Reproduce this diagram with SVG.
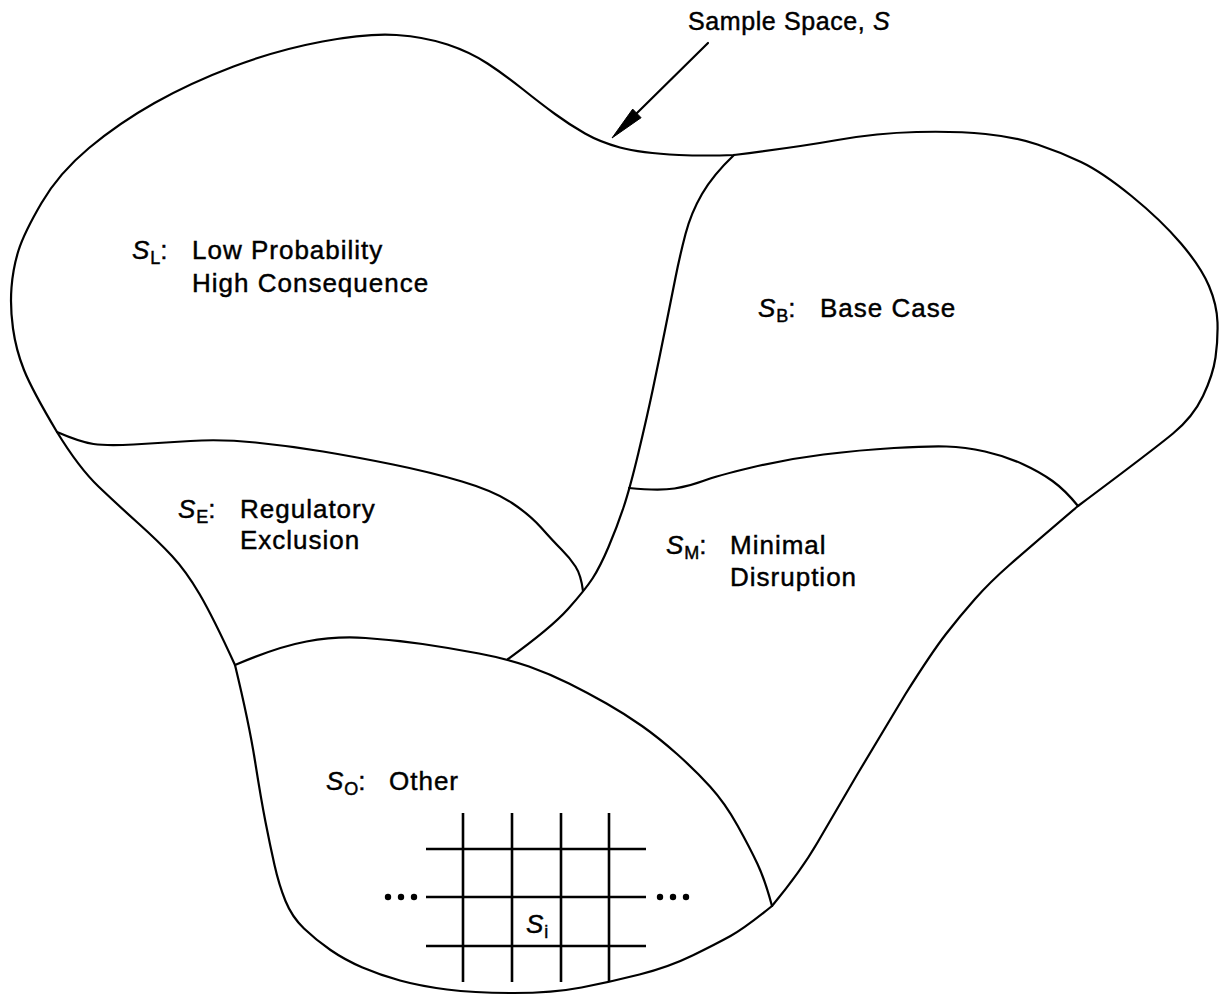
<svg xmlns="http://www.w3.org/2000/svg" width="1220" height="996" viewBox="0 0 1220 996">
<style>
.ln{fill:none;stroke:#000;stroke-width:2.2;stroke-linejoin:round;stroke-linecap:round}
.gr{fill:none;stroke:#000;stroke-width:2.6}
.t{font-family:"Liberation Sans",Arial,Helvetica,sans-serif;font-size:26px;letter-spacing:1px;fill:#000;stroke:#000;stroke-width:0.45px}
.it{font-style:italic}
.sub{font-size:18px;letter-spacing:0}
</style>
<rect width="1220" height="996" fill="#fff"/>
<g id="boundaries">
<path id="outline" class="ln" d="M 57,432 Q 32,390 24,370 Q 16,350 13,328.5 Q 10,307 11.5,287.5 Q 13,268 18.5,250.5 Q 24,233 41.5,203 Q 59,173 89,148 Q 119,123 154.5,103 Q 190,83 233.5,66.5 Q 277,50 322.5,41.5 Q 368,33 396.5,35 Q 425,37 447.5,44.5 Q 470,52 487.5,63.5 Q 505,75 522.5,89 Q 540,103 555,114 Q 570,125 585,133.5 Q 600,142 620,147.5 Q 640,153 679,155 Q 705,156 734,155 Q 798,147 837.5,140 Q 877,133 916.5,132 Q 956,131 985.5,134 Q 1015,137 1037.5,144.5 Q 1060,152 1081,162 Q 1102,172 1131.5,196 Q 1161,220 1181,243.5 Q 1201,267 1209,286 Q 1217,305 1217.5,322.5 Q 1218,340 1215.5,357.5 Q 1213,375 1203,396 Q 1193,417 1173,433.5 Q 1153,450 1078,506 Q 1030,547 1010,564.5 Q 990,582 975,599 Q 960,616 946,634 Q 932,652 905.5,694 Q 881,735 857.5,774 Q 834,814 817.5,842.5 Q 801,871 772,906 Q 745,928 730.5,936 Q 716,944 692.5,955.5 Q 669,967 639.5,974.5 Q 610,982 581.5,987.5 Q 553,993 513.5,993 Q 474,993 447,989.5 Q 420,986 400,980.5 Q 380,975 362.5,967.5 Q 345,960 330.5,950 Q 316,940 304,928.5 Q 292,917 285.5,901 Q 279,885 274.5,865 Q 270,845 265.5,822 Q 261,799 255,761 Q 249,723 235,665 Q 213,617 199.5,594 Q 186,571 172,556 Q 158,541 138.5,523.5 Q 119,506 99,487 Q 79,468 57,432 Z"/>
<path id="div-L-E" class="ln" d="M 57,432 Q 80,442 93.5,444 Q 107,446 133.5,444.5 Q 160,443 190.5,441 Q 221,439 255.5,442.5 Q 290,446 323,451.5 Q 356,457 393,464.5 Q 430,472 462,481.5 Q 494,491 512,503 Q 530,515 541.5,528 Q 553,541 561.5,549.5 Q 570,558 575.5,566.5 Q 581,575 583,591"/>
<path id="div-B-left" class="ln" d="M 734,155 Q 713,175 702,194 Q 691,213 685.5,234 Q 680,255 675.5,277.5 Q 671,300 665,330 Q 659,360 653,388.5 Q 647,417 638.5,452.5 Q 630,488 623.5,507.5 Q 617,527 608.5,547 Q 600,567 592.5,578.5 Q 585,590 568,609 Q 551,628 508,659"/>
<path id="div-M-top" class="ln" d="M 629,488 Q 659,491 674.5,488.5 Q 690,486 703,481 Q 716,476 751.5,467.5 Q 787,459 823.5,454.5 Q 860,450 894,448 Q 928,446 946.5,446.5 Q 965,447 985,451.5 Q 1005,456 1022.5,464 Q 1040,472 1052.5,481 Q 1065,490 1078,506"/>
<path id="div-O" class="ln" d="M 235,665 Q 277,647 306.5,641.5 Q 336,636 365.5,638 Q 395,640 422.5,644 Q 450,648 479,653.5 Q 508,659 529,666.5 Q 550,674 569,683.5 Q 588,693 606.5,703.5 Q 625,714 642,726 Q 659,738 677,754 Q 695,770 710,786.5 Q 725,803 737.5,825.5 Q 750,848 757.5,864 Q 765,880 772,906"/>
</g>
<g id="connectors">
<line class="ln" x1="708" y1="43" x2="637" y2="113"/>
<polygon points="612,138 641.1,117.7 632.7,109.1" fill="#000" stroke="#000" stroke-width="1"/>
</g>
<g id="title">
<text class="t" x="688" y="30" style="font-size:25px;letter-spacing:0.6px">Sample Space, <tspan class="it">S</tspan></text>
</g>
<g id="region-SL">
<text class="t" x="132" y="259"><tspan class="it">S</tspan><tspan class="sub" dy="5">L</tspan><tspan dy="-5">:</tspan></text>
<text class="t" x="192" y="259">Low Probability</text>
<text class="t" x="192" y="292">High Consequence</text>
</g>
<g id="region-SB">
<text class="t" x="758" y="317"><tspan class="it">S</tspan><tspan class="sub" dy="5">B</tspan><tspan dy="-5">:</tspan></text>
<text class="t" x="820" y="317">Base Case</text>
</g>
<g id="region-SE">
<text class="t" x="178" y="518"><tspan class="it">S</tspan><tspan class="sub" dy="5">E</tspan><tspan dy="-5">:</tspan></text>
<text class="t" x="240" y="518">Regulatory</text>
<text class="t" x="240" y="549">Exclusion</text>
</g>
<g id="region-SM">
<text class="t" x="666" y="554"><tspan class="it">S</tspan><tspan class="sub" dy="5">M</tspan><tspan dy="-5">:</tspan></text>
<text class="t" x="730" y="554">Minimal</text>
<text class="t" x="730" y="586">Disruption</text>
</g>
<g id="region-SO">
<text class="t" x="326" y="790"><tspan class="it">S</tspan><tspan class="sub" dy="5">O</tspan><tspan dy="-5">:</tspan></text>
<text class="t" x="389" y="790">Other</text>
</g>
<g id="grid">
<line class="gr" x1="426" y1="849" x2="646" y2="849"/>
<line class="gr" x1="426" y1="897" x2="646" y2="897"/>
<line class="gr" x1="426" y1="946" x2="646" y2="946"/>
<line class="gr" x1="463" y1="813" x2="463" y2="982"/>
<line class="gr" x1="512" y1="813" x2="512" y2="982"/>
<line class="gr" x1="561" y1="813" x2="561" y2="982"/>
<line class="gr" x1="609" y1="813" x2="609" y2="982"/>
<circle cx="388" cy="897" r="3.2"/>
<circle cx="401" cy="897" r="3.2"/>
<circle cx="414" cy="897" r="3.2"/>
<circle cx="660" cy="897" r="3.2"/>
<circle cx="673" cy="897" r="3.2"/>
<circle cx="686" cy="897" r="3.2"/>
<text class="t" x="526" y="933"><tspan class="it">S</tspan><tspan class="sub" dy="5">i</tspan></text>
</g>
</svg>
